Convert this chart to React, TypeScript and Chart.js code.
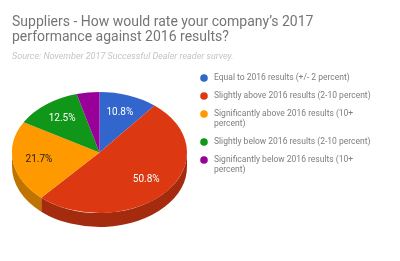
import React, { useEffect, useRef } from "react";
import { Chart, registerables } from "chart.js";

Chart.register(...registerables);

// ---- data ----
const categories = [
  "Equal to 2016 results (+/- 2 percent)",
  "Slightly above 2016 results (2-10 percent)",
  "Significantly above 2016 results (10+ percent)",
  "Slightly below 2016 results (2-10 percent)",
  "Significantly below 2016 results (10+ percent)",
];
const legendLines = [
  ["Equal to 2016 results (+/- 2 percent)"],
  ["Slightly above 2016 results (2-10 percent)"],
  ["Significantly above 2016 results (10+", "percent)"],
  ["Slightly below 2016 results (2-10 percent)"],
  ["Significantly below 2016 results (10+", "percent)"],
];
const values = [10.8, 50.8, 21.7, 12.5, 4.2];
const colors = ["#3366cc", "#dc3912", "#ff9900", "#109618", "#990099"];
const labelColors = ["#ffffff", "#ffffff", "#222222", "#ffffff", "#ffffff"];
const titleLines = [
  "Suppliers - How would rate your company\u2019s 2017",
  "performance against 2016 results?",
];
const subtitleText = "Source: November 2017 Successful Dealer reader survey.";

function darken(hex: string, f: number) {
  const n = parseInt(hex.slice(1), 16);
  const r = Math.round(((n >> 16) & 255) * f);
  const g = Math.round(((n >> 8) & 255) * f);
  const b = Math.round((n & 255) * f);
  return `rgb(${r},${g},${b})`;
}

const pie3d = {
  id: "pie3d",
  beforeDatasetsDraw(chart: any, _args: any, opts: any) {
    const arcs = chart.getDatasetMeta(0).data;
    if (!arcs.length) return;
    const { x, y, outerRadius: R } = arcs[0];
    const sx = opts.rx / R;
    const sy = opts.ry / R;
    const ctx = chart.ctx;
    ctx.save();
    ctx.translate(opts.cx, opts.cy);
    ctx.scale(sx, sy);
    ctx.translate(-x, -y);
    const dd = opts.depth / sy;
    arcs.forEach((arc: any, i: number) => {
      const a = Math.max(arc.startAngle, 0);
      const b = Math.min(arc.endAngle, Math.PI);
      if (b <= a) return;
      ctx.beginPath();
      ctx.arc(x, y, R, a, b, false);
      ctx.arc(x, y + dd, R, b, a, true);
      ctx.closePath();
      ctx.fillStyle = darken(colors[i], 0.75);
      ctx.fill();
    });
  },
  afterDatasetsDraw(chart: any, _args: any, opts: any) {
    const ctx = chart.ctx;
    ctx.restore();
    const arcs = chart.getDatasetMeta(0).data;
    const total = values.reduce((s, v) => s + v, 0);
    ctx.save();
    ctx.font = "10px Roboto";
    ctx.textAlign = "center";
    ctx.textBaseline = "middle";
    arcs.forEach((arc: any, i: number) => {
      const pct = (values[i] / total) * 100;
      if (pct < 6) return;
      const mid = (arc.startAngle + arc.endAngle) / 2;
      const px = opts.cx + opts.rx * 0.7 * Math.cos(mid);
      const py = opts.cy + opts.ry * 0.7 * Math.sin(mid);
      ctx.fillStyle = labelColors[i];
      ctx.fillText(pct.toFixed(1) + "%", px, py);
    });
    ctx.restore();
  },
};

const sideLegend = {
  id: "sideLegend",
  afterDraw(chart: any, _args: any, opts: any) {
    const ctx = chart.ctx;
    ctx.save();
    ctx.font = opts.font;
    ctx.textAlign = "left";
    ctx.textBaseline = "middle";
    let y = opts.y;
    legendLines.forEach((lines, i) => {
      ctx.beginPath();
      ctx.arc(opts.markerX, y, opts.markerR, 0, Math.PI * 2);
      ctx.fillStyle = colors[i];
      ctx.fill();
      ctx.fillStyle = opts.color;
      lines.forEach((ln, j) => ctx.fillText(ln, opts.textX, y + j * opts.lineHeight));
      y += lines.length * opts.lineHeight + opts.gap;
    });
    ctx.restore();
  },
};

export default function App() {
  const ref = useRef<HTMLCanvasElement>(null);
  useEffect(() => {
    if (!ref.current) return;
    const chart = new Chart(ref.current, {
      type: "pie",
      data: {
        labels: categories,
        datasets: [
          {
            data: values,
            backgroundColor: colors,
            borderWidth: 0,
            clip: false as any,
          } as any,
        ],
      },
      options: {
        responsive: false,
        animation: false,
        devicePixelRatio: 1,
        layout: { padding: { left: 12, right: 12, top: 0, bottom: 10 } },
        plugins: {
          legend: { display: false },
          tooltip: { enabled: false },
          title: {
            display: true,
            text: titleLines,
            align: "start",
            color: "#757575",
            font: { family: "Roboto", size: 14, weight: "normal", lineHeight: 1.07 },
            padding: { top: 15, bottom: 6 },
          },
          subtitle: {
            display: true,
            text: subtitleText,
            align: "start",
            color: "#c4c4c4",
            font: { family: "Roboto", size: 9, style: "italic", lineHeight: 1.2 },
            padding: { top: 0, bottom: 4 },
          },
          pie3d: { cx: 99.5, cy: 152.5, rx: 87.5, ry: 60.5, depth: 14 },
          sideLegend: {
            markerX: 204,
            markerR: 3.8,
            textX: 214,
            y: 78,
            lineHeight: 10,
            gap: 8,
            font: "8.5px Roboto",
            color: "#7e7e7e",
          },
        } as any,
      },
      plugins: [pie3d, sideLegend],
    });
    return () => chart.destroy();
  }, []);
  return (
    <div style={{ position: "absolute", left: 0, top: 0, width: 400, height: 261, background: "#fff" }}>
      <canvas ref={ref} width={400} height={261} />
    </div>
  );
}
